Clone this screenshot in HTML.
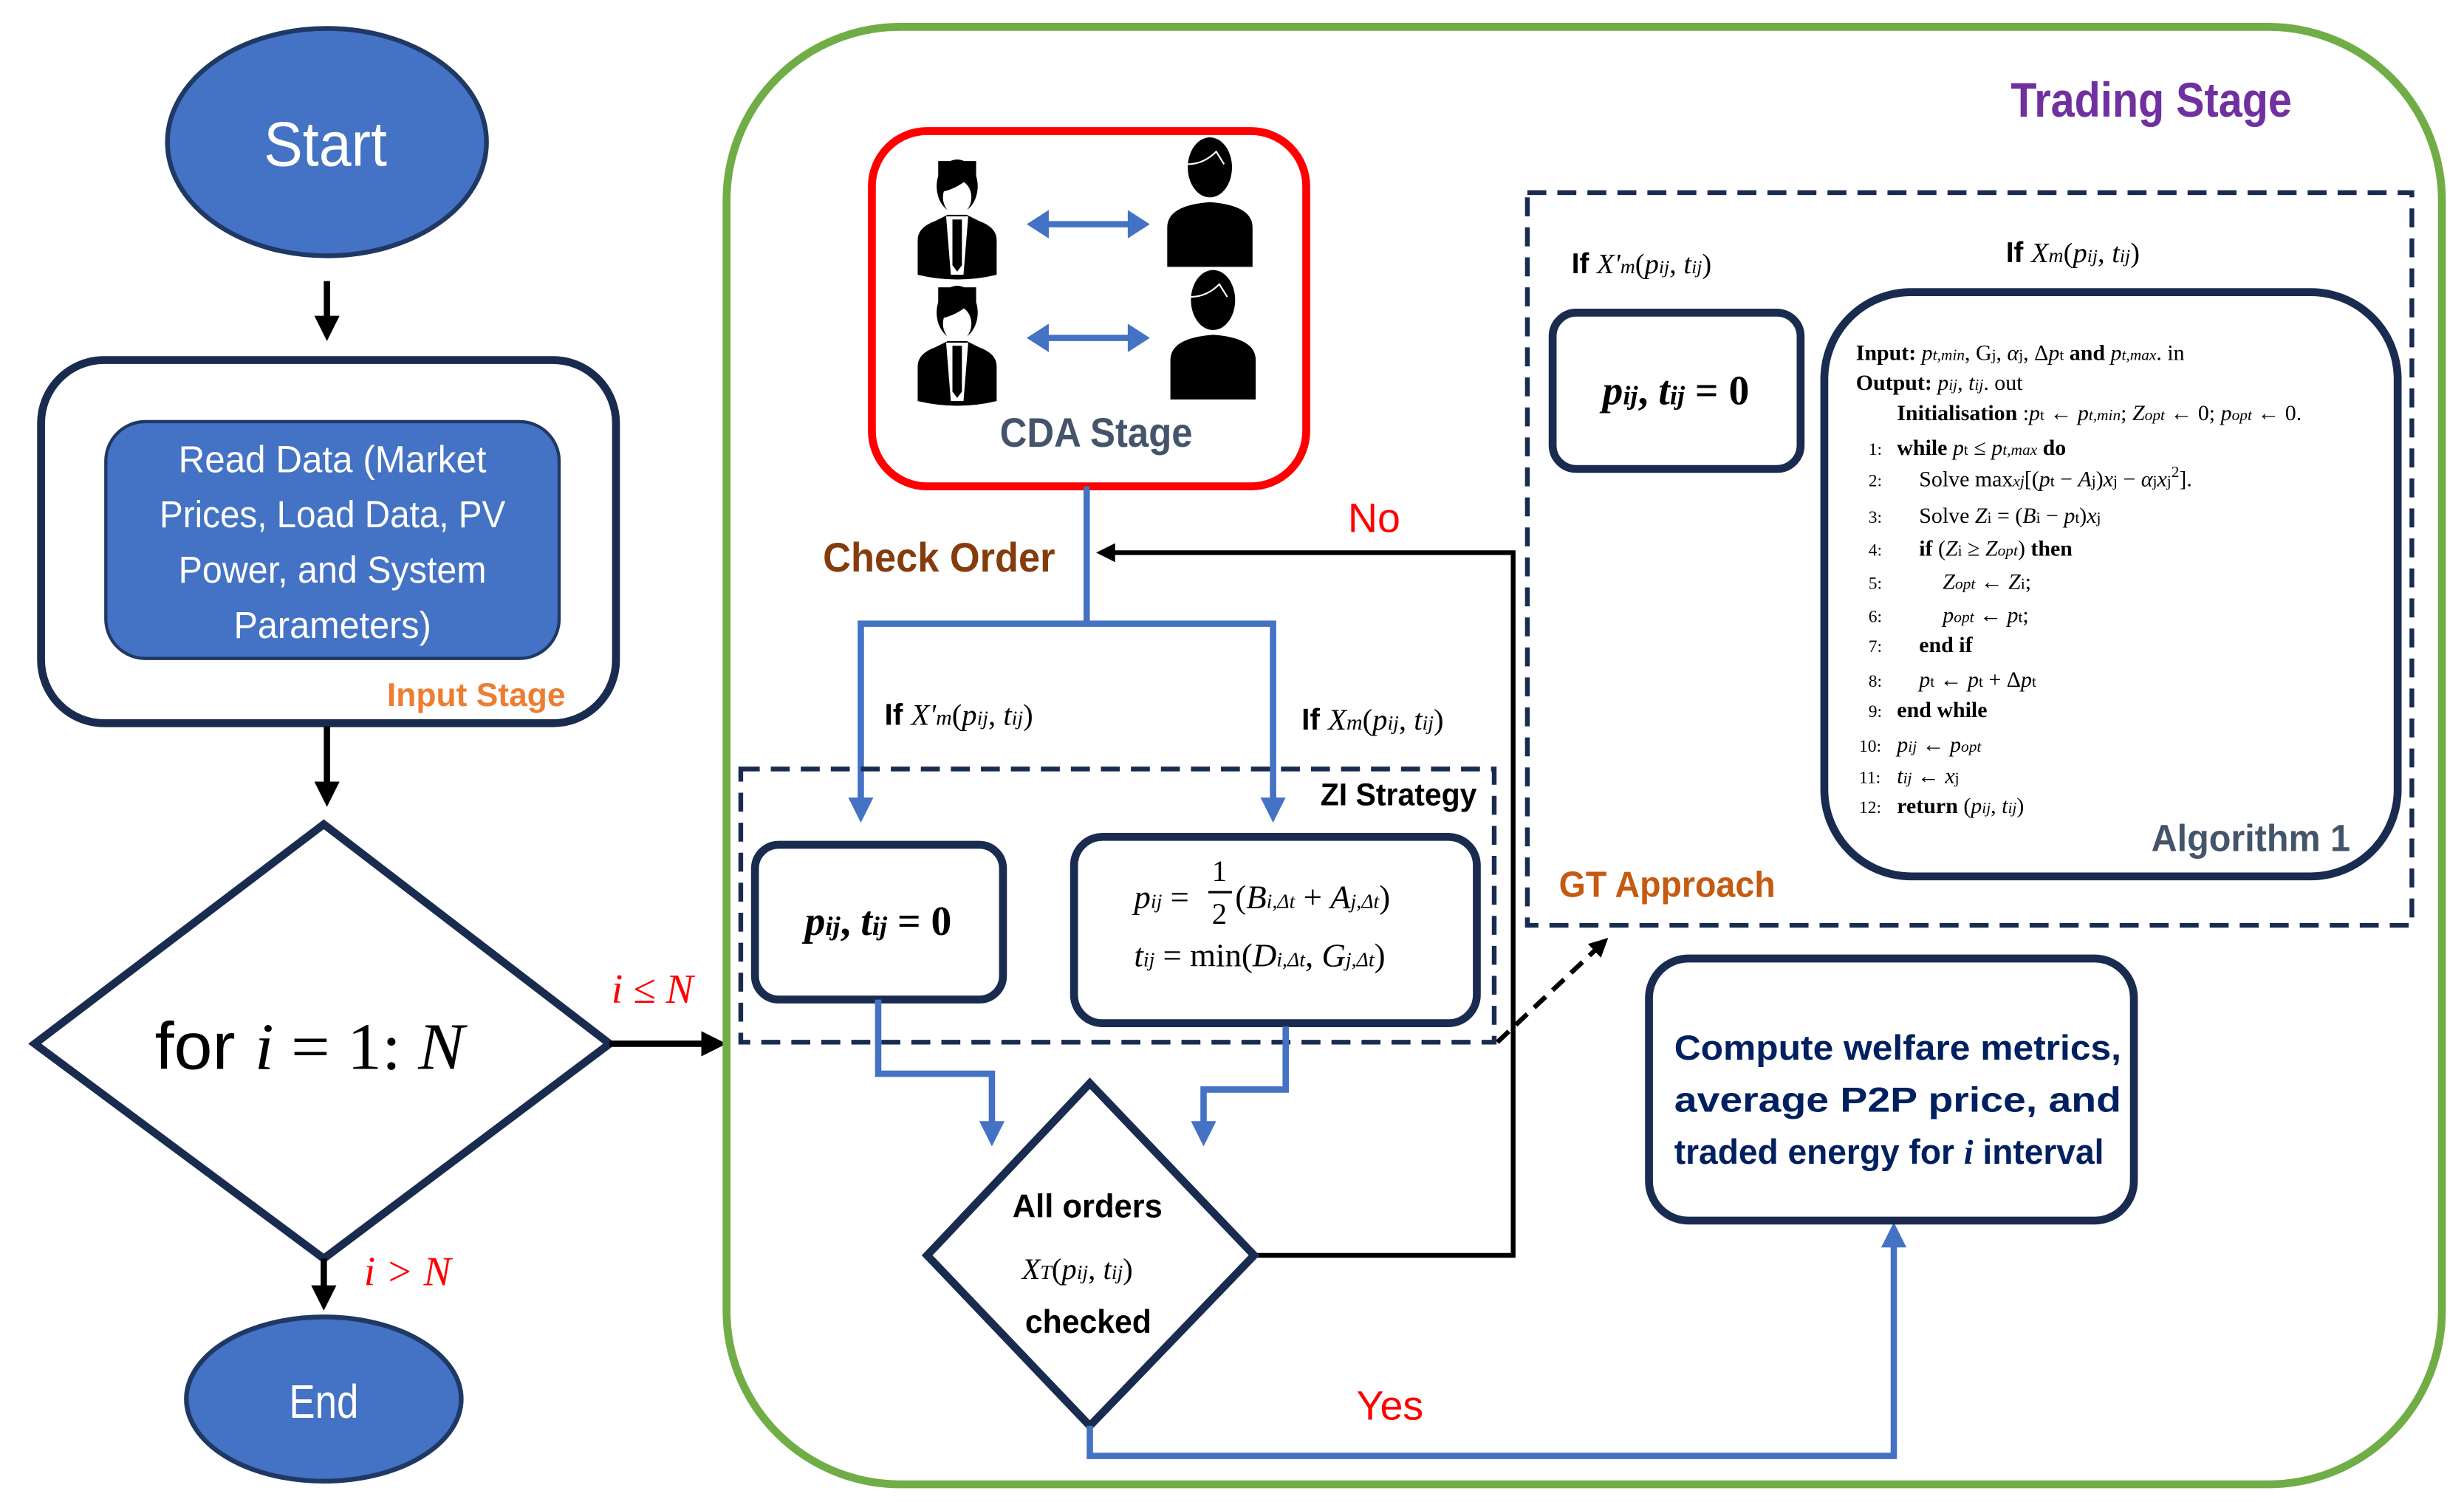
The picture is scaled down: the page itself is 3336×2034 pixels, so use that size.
<!DOCTYPE html>
<html><head><meta charset="utf-8"><style>
html,body{margin:0;padding:0;background:#fff;overflow:hidden;}
svg{display:block;}
.s{font-family:"Liberation Sans",sans-serif;}
.m{font-family:"Liberation Serif",serif;font-style:italic;}
.r{font-family:"Liberation Serif",serif;}
.pre{white-space:pre;}
</style></head><body>
<svg width="3336" height="2034" viewBox="0 0 1560 951.2" preserveAspectRatio="none" xmlns="http://www.w3.org/2000/svg">
<defs>
<marker id="ab" markerWidth="4" markerHeight="4" refX="3" refY="2" orient="auto" markerUnits="strokeWidth"><path d="M0,0 L4,2 L0,4 z" fill="#000"/></marker>
<marker id="au" markerWidth="4" markerHeight="4" refX="3" refY="2" orient="auto" markerUnits="strokeWidth"><path d="M0,0 L4,2 L0,4 z" fill="#4472C4"/></marker>
<g id="biz">
<path d="M-25,44 L-25,22 Q-25,14 -14,10 L-6,6 L6,6 L14,10 Q25,14 25,22 L25,44 Q0,50 -25,44z" fill="#000"/>
<path d="M-7,7 L-4,44 L4,44 L7,7z" fill="#fff"/>
<path d="M-3,9 L3,9 L3,38 L0,42 L-3,38z" fill="#000"/>
<ellipse cx="0" cy="-12" rx="13" ry="17" fill="#000"/>
<ellipse cx="0" cy="-5" rx="9" ry="11" fill="#fff"/>
<path d="M-12,-8 Q0,-10 8,-18 L12,-18 L12,-28 L-12,-28z" fill="#000"/>
</g>
<g id="per">
<path d="M-27,45 L-27,20 Q-27,6 0,4 Q27,6 27,20 L27,45z" fill="#000"/>
<ellipse cx="0" cy="-18" rx="14" ry="19" fill="#000"/>
<path d="M-14,-20 Q-4,-20 4,-28 L9,-20" stroke="#fff" stroke-width="1" fill="none"/>
</g>
</defs>

<!-- Left column -->
<ellipse cx="207" cy="90" rx="101" ry="72" fill="#4472C4" stroke="#1F3864" stroke-width="3"/>
<text x="167" y="105" class="s" font-size="40" fill="#fff" textLength="78" lengthAdjust="spacingAndGlyphs">Start</text>
<line x1="207" y1="178" x2="207" y2="212" stroke="#000" stroke-width="4" marker-end="url(#ab)"/>
<rect x="26" y="228" width="364" height="230" rx="40" fill="#fff" stroke="#1a2b50" stroke-width="5"/>
<rect x="67" y="267" width="287" height="150" rx="25" fill="#4472C4" stroke="#1F3864" stroke-width="2"/>
<g class="s" font-size="24" fill="#fff">
<text x="113" y="299" textLength="195" lengthAdjust="spacingAndGlyphs">Read Data (Market</text>
<text x="101" y="334" textLength="219" lengthAdjust="spacingAndGlyphs">Prices, Load Data, PV</text>
<text x="113" y="369" textLength="195" lengthAdjust="spacingAndGlyphs">Power, and System</text>
<text x="148" y="404" textLength="125" lengthAdjust="spacingAndGlyphs">Parameters)</text>
</g>
<text x="245" y="447" class="s" font-size="21" font-weight="bold" fill="#ED7D31" textLength="113" lengthAdjust="spacingAndGlyphs">Input Stage</text>
<line x1="207" y1="460" x2="207" y2="507" stroke="#000" stroke-width="4" marker-end="url(#ab)"/>
<polygon points="205,522 386,661 205,797 22,661" fill="#fff" stroke="#1a2b50" stroke-width="5"/>
<text x="98" y="677" font-size="42" textLength="196" lengthAdjust="spacingAndGlyphs"><tspan class="s">for </tspan><tspan class="m">i</tspan><tspan class="r"> = 1: </tspan><tspan class="m">N</tspan></text>
<line x1="205" y1="797" x2="205" y2="826" stroke="#000" stroke-width="4" marker-end="url(#ab)"/>
<text x="258" y="814" class="m" font-size="26" fill="#f00" text-anchor="middle">i &gt; N</text>
<ellipse cx="205" cy="886" rx="87" ry="52" fill="#4472C4" stroke="#1F3864" stroke-width="3"/>
<text x="183" y="898" class="s" font-size="30" fill="#fff" textLength="44" lengthAdjust="spacingAndGlyphs">End</text>
<line x1="386" y1="661" x2="456" y2="661" stroke="#000" stroke-width="4" marker-end="url(#ab)"/>
<text x="413" y="635" class="m" font-size="26" fill="#f00" text-anchor="middle">i ≤ N</text>

<!-- Trading stage -->
<rect x="460" y="17" width="1086" height="923" rx="110" fill="none" stroke="#70AD47" stroke-width="5"/>
<text x="1273" y="74" class="s" font-size="31" font-weight="bold" fill="#7030A0" textLength="178" lengthAdjust="spacingAndGlyphs">Trading Stage</text>

<!-- CDA -->
<rect x="552" y="83" width="275" height="225" rx="35" fill="#fff" stroke="#f00" stroke-width="5"/>
<use href="#biz" x="606" y="130"/>
<use href="#biz" x="606" y="210"/>
<use href="#per" x="766" y="124"/>
<use href="#per" x="768" y="208"/>
<line x1="658" y1="142" x2="720" y2="142" stroke="#4472C4" stroke-width="4"/>
<polygon points="650,142 664,133 664,151" fill="#4472C4"/><polygon points="728,142 714,133 714,151" fill="#4472C4"/>
<line x1="658" y1="214" x2="720" y2="214" stroke="#4472C4" stroke-width="4"/>
<polygon points="650,214 664,205 664,223" fill="#4472C4"/><polygon points="728,214 714,205 714,223" fill="#4472C4"/>
<text x="633" y="283" class="s" font-size="26" font-weight="bold" fill="#44546A" textLength="122" lengthAdjust="spacingAndGlyphs">CDA Stage</text>

<!-- blue split -->
<polyline points="688,308 688,395 545,395 545,517" fill="none" stroke="#4472C4" stroke-width="4" marker-end="url(#au)"/>
<polyline points="688,395 806,395 806,517" fill="none" stroke="#4472C4" stroke-width="4" marker-end="url(#au)"/>
<text x="521" y="362" class="s" font-size="26" font-weight="bold" fill="#843C0C" textLength="147" lengthAdjust="spacingAndGlyphs">Check Order</text>
<text x="870" y="337" class="s" font-size="26" fill="#f00" text-anchor="middle">No</text>
<polyline points="794,795 958,795 958,350 697,350" fill="none" stroke="#000" stroke-width="3" marker-end="url(#ab)"/>
<text x="560" y="459" font-size="19"><tspan class="s" font-weight="bold">If </tspan><tspan class="m">X'</tspan><tspan class="m" font-size="14">m</tspan><tspan class="r">(</tspan><tspan class="m">p</tspan><tspan class="m" font-size="13">ij</tspan><tspan class="r">, </tspan><tspan class="m">t</tspan><tspan class="m" font-size="13">ij</tspan><tspan class="r">)</tspan></text>
<text x="824" y="462" font-size="19"><tspan class="s" font-weight="bold">If </tspan><tspan class="m">X</tspan><tspan class="m" font-size="14">m</tspan><tspan class="r">(</tspan><tspan class="m">p</tspan><tspan class="m" font-size="13">ij</tspan><tspan class="r">, </tspan><tspan class="m">t</tspan><tspan class="m" font-size="13">ij</tspan><tspan class="r">)</tspan></text>

<!-- ZI -->
<rect x="469" y="487" width="477" height="173" fill="none" stroke="#1a2b50" stroke-width="3" stroke-dasharray="12,7"/>
<text x="836" y="510" class="s" font-size="20" font-weight="bold" textLength="99" lengthAdjust="spacingAndGlyphs">ZI Strategy</text>
<rect x="478" y="535" width="157" height="98" rx="15" fill="#fff" stroke="#1a2b50" stroke-width="5"/>
<text x="556" y="592" font-size="26" text-anchor="middle" font-weight="bold"><tspan class="m">p</tspan><tspan class="m" font-size="17">ij</tspan><tspan class="r">, </tspan><tspan class="m">t</tspan><tspan class="m" font-size="17">ij</tspan><tspan class="r"> = 0</tspan></text>
<rect x="680" y="530" width="255" height="118" rx="18" fill="#fff" stroke="#1a2b50" stroke-width="5"/>
<g font-size="21">
<text x="718" y="575"><tspan class="m">p</tspan><tspan class="m" font-size="13">ij</tspan><tspan class="r"> = </tspan></text>
<text x="772" y="558" class="r" font-size="19" text-anchor="middle">1</text>
<line x1="765" y1="565" x2="780" y2="565" stroke="#000" stroke-width="1.5"/>
<text x="772" y="585" class="r" font-size="19" text-anchor="middle">2</text>
<text x="782" y="575"><tspan class="r">(</tspan><tspan class="m">B</tspan><tspan class="m" font-size="13">i,Δt</tspan><tspan class="r"> + </tspan><tspan class="m">A</tspan><tspan class="m" font-size="13">j,Δt</tspan><tspan class="r">)</tspan></text>
<text x="718" y="612"><tspan class="m">t</tspan><tspan class="m" font-size="13">ij</tspan><tspan class="r"> = min(</tspan><tspan class="m">D</tspan><tspan class="m" font-size="13">i,Δt</tspan><tspan class="r">, </tspan><tspan class="m">G</tspan><tspan class="m" font-size="13">j,Δt</tspan><tspan class="r">)</tspan></text>
</g>
<polyline points="556,633 556,680 628,680 628,722" fill="none" stroke="#4472C4" stroke-width="4" marker-end="url(#au)"/>
<polyline points="814,650 814,690 762,690 762,722" fill="none" stroke="#4472C4" stroke-width="4" marker-end="url(#au)"/>

<!-- All orders diamond -->
<polygon points="690,686 794,795 690,903 587,795" fill="#fff" stroke="#1a2b50" stroke-width="5"/>
<text x="641" y="771" class="s" font-size="21" font-weight="bold" textLength="95" lengthAdjust="spacingAndGlyphs">All orders</text>
<text x="647" y="810" font-size="19"><tspan class="m">X</tspan><tspan class="m" font-size="13">T</tspan><tspan class="r">(</tspan><tspan class="m">p</tspan><tspan class="m" font-size="13">ij</tspan><tspan class="r">, </tspan><tspan class="m">t</tspan><tspan class="m" font-size="13">ij</tspan><tspan class="r">)</tspan></text>
<text x="649" y="844" class="s" font-size="21" font-weight="bold" textLength="80" lengthAdjust="spacingAndGlyphs">checked</text>
<polyline points="690,903 690,922 1199,922 1199,778" fill="none" stroke="#4472C4" stroke-width="4" marker-end="url(#au)"/>
<text x="880" y="899" class="s" font-size="26" fill="#f00" text-anchor="middle">Yes</text>

<!-- Compute -->
<rect x="1044" y="607" width="307" height="166" rx="25" fill="#fff" stroke="#1a2b50" stroke-width="5"/>
<g class="s" font-size="22" font-weight="bold" fill="#002060">
<text x="1060" y="671" textLength="283" lengthAdjust="spacingAndGlyphs">Compute  welfare  metrics,</text>
<text x="1060" y="704" textLength="283" lengthAdjust="spacingAndGlyphs">average  P2P  price,  and</text>
<text x="1060" y="737" textLength="272" lengthAdjust="spacingAndGlyphs">traded energy for <tspan class="m">i</tspan> interval</text>
</g>

<!-- GT -->
<rect x="967" y="122" width="560" height="464" fill="none" stroke="#1a2b50" stroke-width="3" stroke-dasharray="12,7"/>
<text x="987" y="568" class="s" font-size="23" font-weight="bold" fill="#C55A11" textLength="137" lengthAdjust="spacingAndGlyphs">GT Approach</text>
<line x1="948" y1="660" x2="1016" y2="596" stroke="#000" stroke-width="3" stroke-dasharray="10,6" marker-end="url(#ab)"/>
<text x="995" y="173" font-size="18"><tspan class="s" font-weight="bold">If </tspan><tspan class="m">X'</tspan><tspan class="m" font-size="13">m</tspan><tspan class="r">(</tspan><tspan class="m">p</tspan><tspan class="m" font-size="12">ij</tspan><tspan class="r">, </tspan><tspan class="m">t</tspan><tspan class="m" font-size="12">ij</tspan><tspan class="r">)</tspan></text>
<text x="1270" y="166" font-size="18"><tspan class="s" font-weight="bold">If </tspan><tspan class="m">X</tspan><tspan class="m" font-size="13">m</tspan><tspan class="r">(</tspan><tspan class="m">p</tspan><tspan class="m" font-size="12">ij</tspan><tspan class="r">, </tspan><tspan class="m">t</tspan><tspan class="m" font-size="12">ij</tspan><tspan class="r">)</tspan></text>
<rect x="983" y="198" width="157" height="99" rx="15" fill="#fff" stroke="#1a2b50" stroke-width="5"/>
<text x="1061" y="256" font-size="26" text-anchor="middle" font-weight="bold"><tspan class="m">p</tspan><tspan class="m" font-size="17">ij</tspan><tspan class="r">, </tspan><tspan class="m">t</tspan><tspan class="m" font-size="17">ij</tspan><tspan class="r"> = 0</tspan></text>

<!-- Algorithm -->
<rect x="1155" y="185" width="363" height="370" rx="55" fill="#fff" stroke="#1a2b50" stroke-width="5"/>
<g class="r" font-size="14">
<text x="1175" y="228"><tspan font-weight="bold">Input: </tspan><tspan class="m">p</tspan><tspan class="m" font-size="10">t,min</tspan>, G<tspan font-size="10">j</tspan>, <tspan class="m">α</tspan><tspan font-size="10">j</tspan>, Δ<tspan class="m">p</tspan><tspan font-size="10">t</tspan> <tspan font-weight="bold">and</tspan> <tspan class="m">p</tspan><tspan class="m" font-size="10">t,max</tspan>.  in</text>
<text x="1175" y="247"><tspan font-weight="bold">Output: </tspan><tspan class="m">p</tspan><tspan class="m" font-size="10">ij</tspan>, <tspan class="m">t</tspan><tspan class="m" font-size="10">ij</tspan>.  out</text>
<text x="1201" y="266"><tspan font-weight="bold">Initialisation</tspan> :<tspan class="m">p</tspan><tspan font-size="10">t</tspan> ← <tspan class="m">p</tspan><tspan class="m" font-size="10">t,min</tspan>; <tspan class="m">Z</tspan><tspan class="m" font-size="10">opt</tspan> ← 0; <tspan class="m">p</tspan><tspan class="m" font-size="10">opt</tspan> ← 0.</text>
<g font-size="11">
<text x="1183" y="288">1:</text><text x="1183" y="308">2:</text><text x="1183" y="331">3:</text><text x="1183" y="352">4:</text><text x="1183" y="373">5:</text><text x="1183" y="394">6:</text><text x="1183" y="413">7:</text><text x="1183" y="435">8:</text><text x="1183" y="454">9:</text><text x="1177" y="476">10:</text><text x="1177" y="496">11:</text><text x="1177" y="515">12:</text>
</g>
<text x="1201" y="288"><tspan font-weight="bold">while</tspan> <tspan class="m">p</tspan><tspan font-size="10">t</tspan> ≤ <tspan class="m">p</tspan><tspan class="m" font-size="10">t,max</tspan> <tspan font-weight="bold">do</tspan></text>
<text x="1215" y="308">Solve max<tspan class="m" font-size="10">xj</tspan>[(<tspan class="m">p</tspan><tspan font-size="10">t</tspan> − <tspan class="m">A</tspan><tspan font-size="10">j</tspan>)<tspan class="m">x</tspan><tspan font-size="10">j</tspan> − <tspan class="m">α</tspan><tspan font-size="10">j</tspan><tspan class="m">x</tspan><tspan font-size="10">j</tspan><tspan font-size="10" dy="-6">2</tspan><tspan dy="6">].</tspan></text>
<text x="1215" y="331">Solve <tspan class="m">Z</tspan><tspan font-size="10">i</tspan> = (<tspan class="m">B</tspan><tspan font-size="10">i</tspan> − <tspan class="m">p</tspan><tspan font-size="10">t</tspan>)<tspan class="m">x</tspan><tspan font-size="10">j</tspan></text>
<text x="1215" y="352"><tspan font-weight="bold">if</tspan> (<tspan class="m">Z</tspan><tspan font-size="10">i</tspan> ≥ <tspan class="m">Z</tspan><tspan class="m" font-size="10">opt</tspan>) <tspan font-weight="bold">then</tspan></text>
<text x="1230" y="373"><tspan class="m">Z</tspan><tspan class="m" font-size="10">opt</tspan> ← <tspan class="m">Z</tspan><tspan font-size="10">i</tspan>;</text>
<text x="1230" y="394"><tspan class="m">p</tspan><tspan class="m" font-size="10">opt</tspan> ← <tspan class="m">p</tspan><tspan font-size="10">t</tspan>;</text>
<text x="1215" y="413" font-weight="bold">end if</text>
<text x="1215" y="435"><tspan class="m">p</tspan><tspan font-size="10">t</tspan> ← <tspan class="m">p</tspan><tspan font-size="10">t</tspan> + Δ<tspan class="m">p</tspan><tspan font-size="10">t</tspan></text>
<text x="1201" y="454" font-weight="bold">end while</text>
<text x="1201" y="476"><tspan class="m">p</tspan><tspan class="m" font-size="10">ij</tspan> ← <tspan class="m">p</tspan><tspan class="m" font-size="10">opt</tspan></text>
<text x="1201" y="496"><tspan class="m">t</tspan><tspan class="m" font-size="10">ij</tspan> ← <tspan class="m">x</tspan><tspan font-size="10">j</tspan></text>
<text x="1201" y="515"><tspan font-weight="bold">return</tspan>  (<tspan class="m">p</tspan><tspan class="m" font-size="10">ij</tspan>, <tspan class="m">t</tspan><tspan class="m" font-size="10">ij</tspan>)</text>
</g>
<text x="1362" y="539" class="s" font-size="24" font-weight="bold" fill="#44546A" textLength="126" lengthAdjust="spacingAndGlyphs">Algorithm 1</text>
</svg>
</body></html>
